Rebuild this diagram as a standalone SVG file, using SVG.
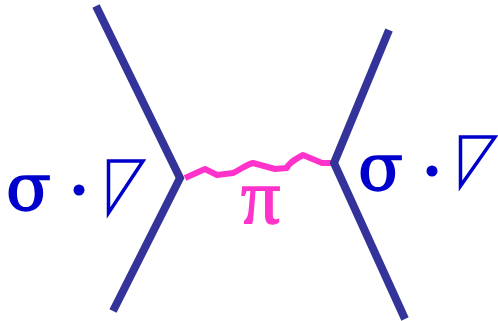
<svg xmlns="http://www.w3.org/2000/svg" width="498" height="321" viewBox="0 0 498 321">
<style>
.q{fill:none;stroke:#333399;stroke-width:8;stroke-linejoin:miter}
.w{fill:none;stroke:#ff33cc;stroke-width:6;stroke-linejoin:round}
.s{font-family:"DejaVu Serif",serif;font-size:66px;fill:#0000cc;stroke:#0000cc;stroke-width:1.5}
.p{font-family:"Liberation Serif",serif;font-size:78px;fill:#ff33cc;stroke:#ff33cc;stroke-width:1.5}
.t{fill:none;stroke:#0000cc;stroke-width:3.5}
.d{fill:#0000cc}
</style>
<g id="connectors">
<path class="w" d="M185 178L205 169L217 175L233 173C240 170 245 165 253 163L275 169L287 168C288 164 292 161 303 155L322 163L334 163"/>
<path class="q" d="M96 6L180 178L113 311"/>
<path class="q" d="M389 30L334 163L405 319"/>
</g>
<g id="left-label">
<text class="s" x="6" y="210">σ</text>
<circle class="d" cx="79" cy="190" r="5.5"/>
<path class="t" d="M108.500 161H143L108.500 213Z"/>
</g>
<g id="right-label">
<text class="s" x="358" y="190">σ</text>
<circle class="d" cx="432" cy="171" r="5.500"/>
<path class="t" d="M460.500 137H495L460.500 186Z"/>
</g>
<g id="pion-label">
<text class="p" x="241" y="223">π</text>
</g>
</svg>
